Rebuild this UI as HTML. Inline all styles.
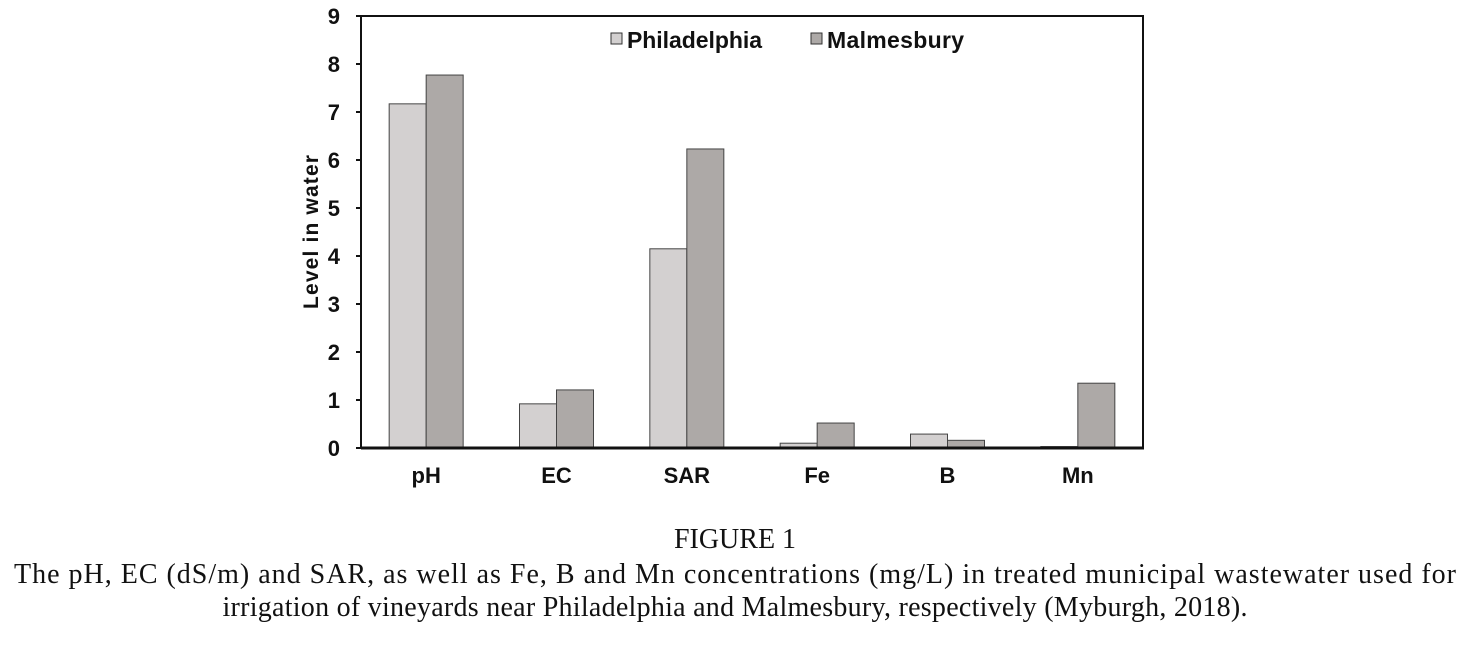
<!DOCTYPE html>
<html><head><meta charset="utf-8"><style>
body{margin:0;background:#fff;width:1471px;height:646px;overflow:hidden}
svg{display:block}
.cap{font-family:"Liberation Serif",serif;font-size:28px;fill:#111}
.ax{font-family:"Liberation Sans",sans-serif;font-weight:bold;fill:#111}
</style></head><body>
<svg id="chart" width="1471" height="646">
<g id="bars"></g>
<g id="axes"></g>
<text class="ax" font-size="21" transform="translate(318,232) rotate(-90)" text-anchor="middle" textLength="154">Level in water</text>
<g>
<rect x="611" y="33" width="11" height="11" fill="#d3d0d0" stroke="#333"/>
<text class="ax" x="627" y="48" font-size="23" textLength="135">Philadelphia</text>
<rect x="811" y="33" width="11" height="11" fill="#ada9a7" stroke="#333"/>
<text class="ax" x="827" y="48" font-size="23" textLength="137">Malmesbury</text>
</g>
<text class="cap" x="735" y="548" text-anchor="middle">FIGURE 1</text>
<text class="cap" x="735" y="583" text-anchor="middle" textLength="1442">The pH, EC (dS/m) and SAR, as well as Fe, B and Mn concentrations (mg/L) in treated municipal wastewater used for</text>
<text class="cap" x="735" y="616" text-anchor="middle" textLength="1025">irrigation of vineyards near Philadelphia and Malmesbury, respectively (Myburgh, 2018).</text>
</svg>
<script>
const categories=["pH","EC","SAR","Fe","B","Mn"];
const philadelphia=[7.17,0.92,4.15,0.1,0.29,0.03];
const malmesbury=[7.77,1.21,6.23,0.52,0.16,1.35];
const yTicks=[0,1,2,3,4,5,6,7,8,9];
const NS="http://www.w3.org/2000/svg";
const L=361,R=1143,T=16,B=448,yMax=9;
const y=v=>B-(v/yMax)*(B-T);
const band=(R-L)/categories.length;
const xc=i=>L+band*(i+0.5);
const bw=37;
function mk(tag,attrs,parent){const e=document.createElementNS(NS,tag);for(const k in attrs)e.setAttribute(k,attrs[k]);parent.appendChild(e);return e;}
const gb=document.getElementById('bars'),ga=document.getElementById('axes');
categories.forEach((c,i)=>{
  const r1=mk('rect',{x:xc(i)-bw,y:y(philadelphia[i]),width:bw,height:B-y(philadelphia[i]),fill:'#d3d0d0',stroke:'#444','stroke-width':1},gb);
  
  
  const r2=mk('rect',{x:xc(i),y:y(malmesbury[i]),width:bw,height:B-y(malmesbury[i]),fill:'#ada9a7',stroke:'#444','stroke-width':1},gb);
  
  
  const t=mk('text',{x:xc(i),y:483,'text-anchor':'middle','font-size':22,class:'ax'},ga);
  t.textContent=c;
  
  
});
const fr=mk('rect',{x:L,y:T,width:R-L,height:B-T,fill:'none',stroke:'#111','stroke-width':2},ga);


const bl=mk('line',{x1:L,x2:R+1,y1:B,y2:B,stroke:'#111','stroke-width':3},ga);


yTicks.forEach(v=>{
  const tk=mk('line',{x1:L-5,x2:L,y1:y(v),y2:y(v),stroke:'#111','stroke-width':2},ga);
  
  
  const t=mk('text',{x:340,y:y(v)+8,'text-anchor':'end','font-size':22,class:'ax'},ga);
  t.textContent=v;
  
  
});
</script>
</body></html>
